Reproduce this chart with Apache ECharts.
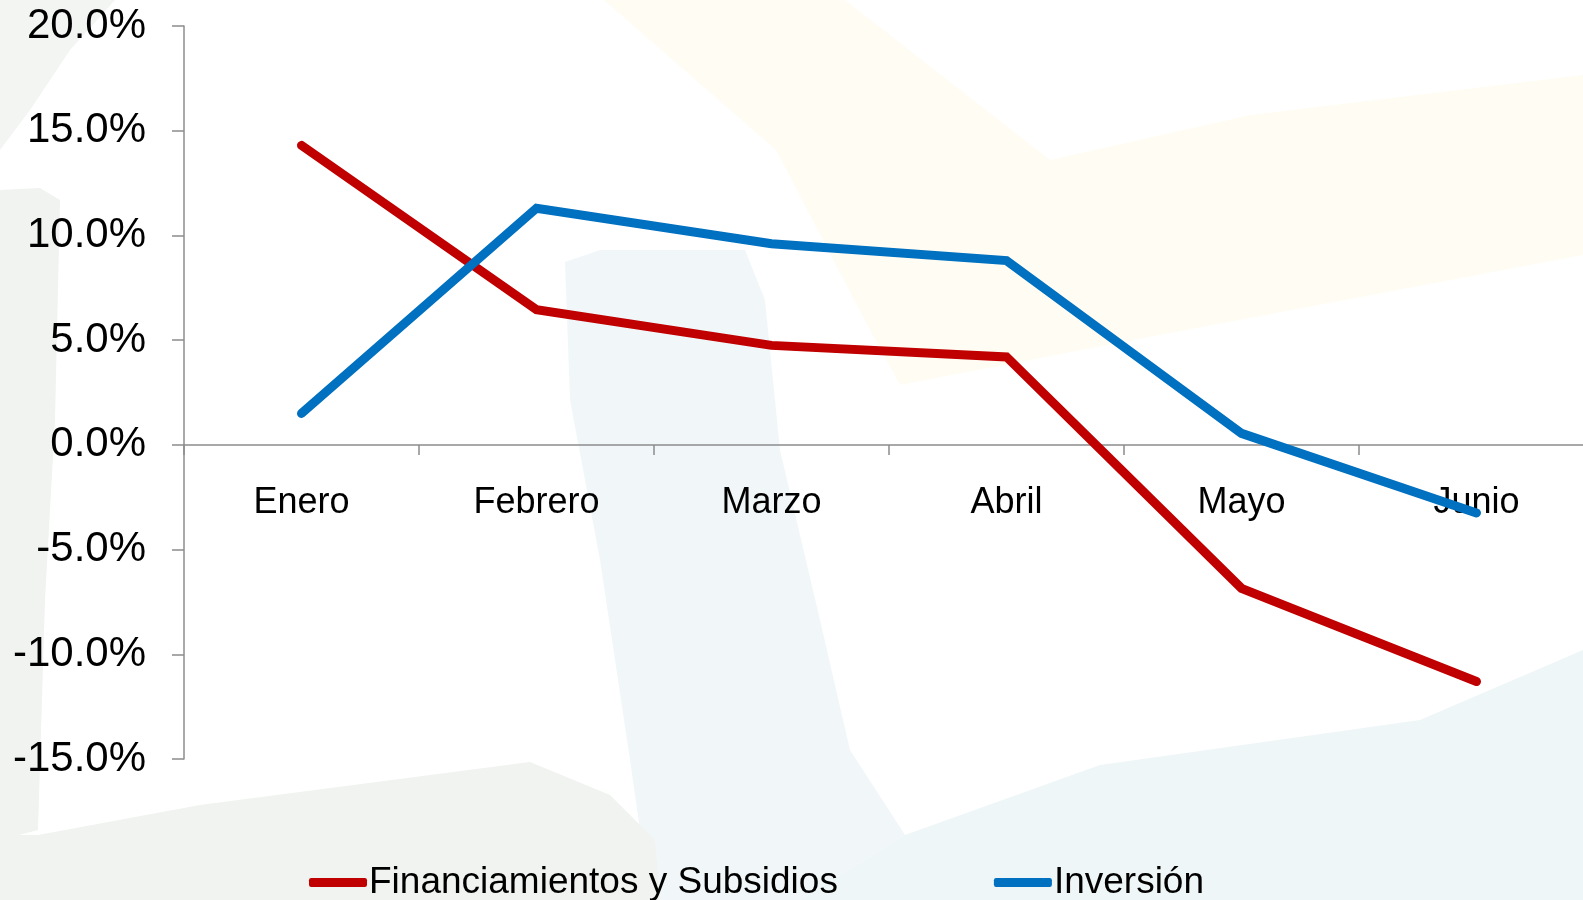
<!DOCTYPE html>
<html>
<head>
<meta charset="utf-8">
<style>
    html, body {
        margin: 0;
        padding: 0;
        background: #ffffff;
    }
    #chart {
        width: 1583px;
        height: 900px;
    }
</style>
<script src="https://cdn.jsdelivr.net/npm/echarts@6/dist/echarts.min.js"></script>
</head>
<body>
<div id="chart"></div>
<script>
const meses = ['Enero', 'Febrero', 'Marzo', 'Abril', 'Mayo', 'Junio'];
const financiamientos = [14.3, 6.45, 4.75, 4.2, -6.85, -11.3];
const inversion = [1.5, 11.3, 9.6, 8.8, 0.55, -3.25];
const nombres = ['Financiamientos y Subsidios', 'Inversión'];

const fuente = '"Liberation Sans", Arial, sans-serif';

// faint watermark shapes of the slide background
function fondo(points, color) {
    return {
        type: 'polygon',
        z: -10,
        silent: true,
        shape: { points: points },
        style: { fill: color }
    };
}

const chart = echarts.init(document.getElementById('chart'));
chart.setOption({
    backgroundColor: '#ffffff',
    animation: false,
    graphic: [
        fondo([[0, 0], [115, 0], [70, 50], [30, 110], [0, 150]], '#f3f5f3'),
        fondo([[0, 190], [40, 188], [60, 200], [55, 420], [45, 600], [38, 830], [0, 840]], '#f0f3f0'),
        fondo([[604, 0], [845, 0], [1050, 160], [1250, 115], [1583, 75], [1583, 255], [1160, 335], [900, 385], [870, 330], [776, 150]], '#fffdf3'),
        fondo([[565, 262], [600, 250], [745, 250], [765, 300], [780, 450], [820, 620], [850, 750], [905, 835], [800, 900], [650, 900], [630, 760], [600, 560], [570, 400]], '#f1f7f9'),
        fondo([[38, 835], [200, 805], [530, 762], [610, 795], [655, 840], [660, 900], [0, 900], [0, 835]], '#f0f3ef'),
        fondo([[905, 835], [1100, 765], [1420, 720], [1583, 650], [1583, 900], [800, 900]], '#eff6f7')
    ],
    color: ['#c00000', '#0070c0'],
    grid: {
        left: 184,
        right: -11,
        top: 26,
        bottom: 141,
        outerBoundsMode: 'none'
    },
    legend: {
        data: nombres,
        left: 309,
        top: 864,
        padding: 0,
        itemGap: 156,
        itemWidth: 58,
        itemHeight: 9,
        icon: 'roundRect',
        textStyle: {
            fontFamily: fuente,
            fontSize: 37,
            color: '#000000',
            padding: [0, 0, 0, -3]
        }
    },
    xAxis: {
        type: 'category',
        data: meses,
        boundaryGap: true,
        position: 'bottom',
        offset: -314,
        axisLine: {
            onZero: false,
            lineStyle: { color: '#8c8c8c', width: 1.5 }
        },
        axisTick: {
            show: true,
            length: 10,
            lineStyle: { color: '#8c8c8c', width: 1.5 }
        },
        axisLabel: {
            margin: 40,
            fontFamily: fuente,
            fontSize: 36,
            color: '#000000'
        }
    },
    yAxis: {
        type: 'value',
        min: -15,
        max: 20,
        interval: 5,
        splitLine: { show: false },
        axisLine: {
            show: true,
            lineStyle: { color: '#8c8c8c', width: 1.5 }
        },
        axisTick: {
            show: true,
            length: 12,
            lineStyle: { color: '#8c8c8c', width: 1.5 }
        },
        axisLabel: {
            margin: 38,
            fontFamily: fuente,
            fontSize: 42,
            color: '#000000',
            formatter(value) {
                return value.toFixed(1) + '%';
            }
        }
    },
    series: [
        {
            name: nombres[0],
            type: 'line',
            data: financiamientos,
            symbol: 'none',
            lineStyle: { width: 9, cap: 'round', join: 'miter' }
        },
        {
            name: nombres[1],
            type: 'line',
            data: inversion,
            symbol: 'none',
            lineStyle: { width: 9, cap: 'round', join: 'miter' }
        }
    ]
});
</script>
</body>
</html>
